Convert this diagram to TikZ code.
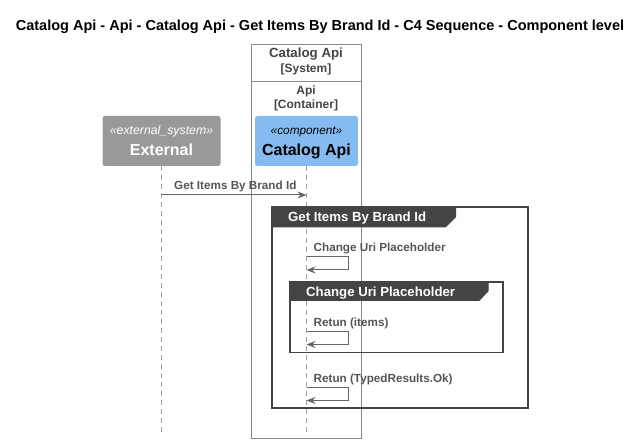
\documentclass[tikz,border=0pt]{standalone}
\usepackage{fontspec}
\setmainfont{Liberation Sans}
\usetikzlibrary{arrows.meta}
\definecolor{extgray}{HTML}{999999}
\definecolor{compblue}{HTML}{85BBF0}
\definecolor{linegray}{HTML}{666666}
\definecolor{lifegray}{HTML}{A0A0A0}
\definecolor{txtgray}{HTML}{555555}
\definecolor{framedark}{HTML}{444444}
\definecolor{boxgray}{HTML}{888888}
\begin{document}
\begin{tikzpicture}[x=1pt,y=-1pt,
  msg/.style={draw=linegray,line width=1pt,-{Stealth[length=9pt,width=7pt,inset=3pt]}},
  msglabel/.style={font=\fontsize{11.7}{12}\selectfont\bfseries,text=txtgray,anchor=base west,inner sep=0pt},
  lifeline/.style={draw=lifegray,line width=0.8pt,dash pattern=on 5pt off 4pt},
  actorbox/.style={rounded corners=2.5pt,draw=none,minimum width=118pt,minimum height=50pt,inner sep=0pt,align=center},
  groupframe/.style={draw=framedark,line width=1.2pt},
  grouptab/.style={fill=framedark,draw=framedark,line width=1pt},
  grouptitle/.style={font=\fontsize{13.2}{14}\selectfont\bfseries,text=white,anchor=base west,inner sep=0pt},
  hdr/.style={font=\fontsize{12}{13}\selectfont\bfseries,text=framedark,inner sep=0pt,anchor=base}
]
\useasboundingbox (0,0) rectangle (641,443);
% title
\node[font=\fontsize{14.5}{15}\selectfont\bfseries,inner sep=0pt,anchor=base] (title) at (320,31) {Catalog Api - Api - Catalog Api - Get Items By Brand Id - C4 Sequence - Component level};
% system box
\draw[draw=boxgray,line width=0.8pt] (251,44) rectangle (361,438);
\draw[draw=boxgray,line width=0.8pt] (251,81) -- (361,81);
\node[hdr,font=\fontsize{13.3}{14}\selectfont\bfseries] (sysname) at (306,58) {Catalog Api};
\node[hdr] (systype) at (306,73) {[System]};
\node[hdr] (contname) at (306,95) {Api};
\node[hdr] (conttype) at (306,109) {[Container]};
% actors
\node[actorbox,fill=extgray,text=white,minimum width=118pt] (ext) at (161.5,141) {};
\node[font=\fontsize{12.3}{13}\selectfont\itshape,text=white,anchor=base,inner sep=0pt] (exts) at (161.5,135) {«external\_system»};
\node[font=\fontsize{16}{17}\selectfont\bfseries,text=white,anchor=base,inner sep=0pt] (extn) at (161.5,156) {External};
\node[actorbox,fill=compblue,minimum width=103pt] (comp) at (306.5,141) {};
\node[font=\fontsize{11.8}{12}\selectfont\itshape,anchor=base,inner sep=0pt] (comps) at (306.5,135) {«component»};
\node[font=\fontsize{16}{17}\selectfont\bfseries,anchor=base,inner sep=0pt] (compn) at (306.5,156) {Catalog Api};
% lifelines
\coordinate (extend) at (161.5,432);
\coordinate (compend) at (306.5,432);
\draw[lifeline] (ext.south) -- (extend);
\draw[lifeline] (comp.south) -- (compend);
% message 1
\coordinate (m1a) at (161.5,195);
\coordinate (m1b) at (306.5,195);
\draw[msg] (m1a) -- (m1b);
\node[msglabel] (l1) at (174,189.5) {Get Items By Brand Id};
% group 1
\draw[groupframe] (272,207) rectangle (528,408);
\draw[grouptab] (272,207) -- (455.5,207) -- (455.5,217) -- (445.5,227) -- (272,227) -- cycle;
\node[grouptitle] (g1) at (288,221.5) {Get Items By Brand Id};
% self message 1
\coordinate (s1a) at (306.5,257);
\coordinate (s1b) at (306.5,270);
\draw[msg] (s1a) -- (348.5,257) -- (348.5,270) -- (s1b);
\node[msglabel] (l2) at (313.5,251.5) {Change Uri Placeholder};
% group 2
\draw[groupframe] (290,282) rectangle (503,352.5);
\draw[grouptab] (290,282) -- (488,282) -- (488,291) -- (479,300.5) -- (290,300.5) -- cycle;
\node[grouptitle] (g2) at (306,296.5) {Change Uri Placeholder};
% self message 2
\coordinate (s2a) at (306.5,331.5);
\coordinate (s2b) at (306.5,344.5);
\draw[msg] (s2a) -- (348.5,331.5) -- (348.5,344.5) -- (s2b);
\node[msglabel] (l3) at (313.5,326.5) {Retun (items)};
% self message 3
\coordinate (s3a) at (306.5,387.5);
\coordinate (s3b) at (306.5,400.5);
\draw[msg] (s3a) -- (348.5,387.5) -- (348.5,400.5) -- (s3b);
\node[msglabel] (l4) at (313.5,382.5) {Retun (TypedResults.Ok)};
\end{tikzpicture}
\end{document}
